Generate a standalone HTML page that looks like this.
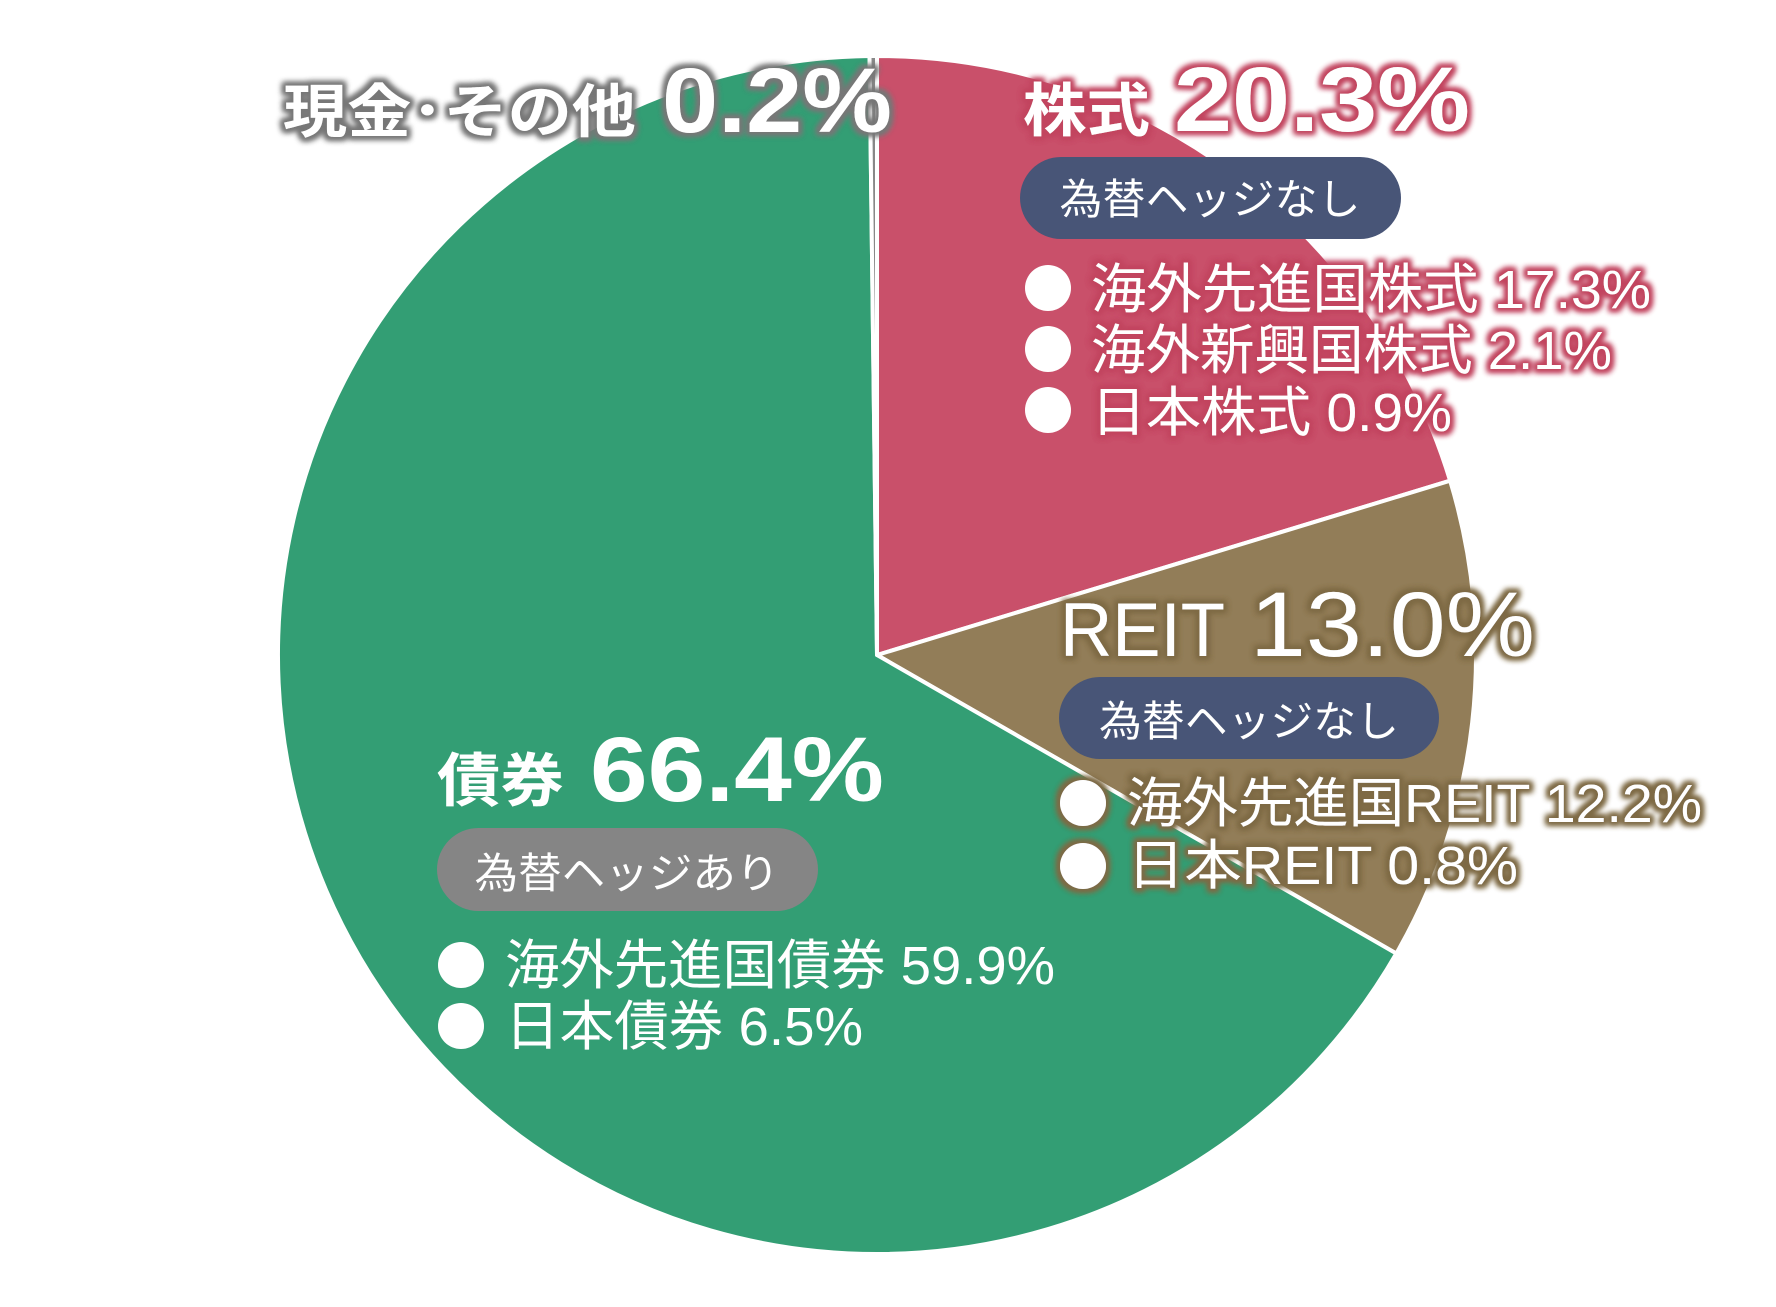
<!DOCTYPE html>
<html><head><meta charset="utf-8"><style>
html,body{margin:0;padding:0;background:#fff;}
svg{display:block;}
text{font-family:"Liberation Sans","Noto Sans CJK JP",sans-serif;fill:#fff;}
.b{font-weight:bold;}
</style></head><body>
<svg width="1776" height="1307" viewBox="0 0 1776 1307" xmlns="http://www.w3.org/2000/svg">
<defs>
<filter id="gp" x="-20%" y="-40%" width="140%" height="180%">
<feMorphology in="SourceAlpha" operator="dilate" radius="3" result="d"/>
<feGaussianBlur in="d" stdDeviation="3" result="b"/>
<feFlood flood-color="#c2455f"/><feComposite in2="b" operator="in" result="g"/>
<feMerge><feMergeNode in="g"/><feMergeNode in="g"/><feMergeNode in="SourceGraphic"/></feMerge>
</filter>
<filter id="gr" x="-20%" y="-40%" width="140%" height="180%">
<feMorphology in="SourceAlpha" operator="dilate" radius="3" result="d"/>
<feGaussianBlur in="d" stdDeviation="3" result="b"/>
<feFlood flood-color="#7e6a45"/><feComposite in2="b" operator="in" result="g"/>
<feMerge><feMergeNode in="g"/><feMergeNode in="g"/><feMergeNode in="SourceGraphic"/></feMerge>
</filter>
<filter id="gg" x="-20%" y="-40%" width="140%" height="180%">
<feMorphology in="SourceAlpha" operator="dilate" radius="3" result="d"/>
<feGaussianBlur in="d" stdDeviation="3" result="b"/>
<feFlood flood-color="#777777"/><feComposite in2="b" operator="in" result="g"/>
<feMerge><feMergeNode in="g"/><feMergeNode in="g"/><feMergeNode in="SourceGraphic"/></feMerge>
</filter>
</defs>
<g transform="translate(-2,-2)">
<g stroke="#fff" stroke-width="4" stroke-linejoin="round">
<path d="M879,657 L879,58 A599,599 0 0 1 1452.1,482.7 Z" fill="#c9506a"/>
<path d="M879,657 L1452.1,482.7 A599,599 0 0 1 1398.3,955.5 Z" fill="#927d58"/>
<path d="M879,657 L1398.3,955.5 A599,599 0 1 1 871.5,58.05 Z" fill="#339e74"/>
<path d="M879,657 L871.5,58.05 A599,599 0 0 1 879,58 Z" fill="#888"/>
</g>

<g filter="url(#gg)">
<text class="b" x="285" y="134" font-size="58" textLength="353" lengthAdjust="spacingAndGlyphs">現金･その他</text>
<text class="b" x="664" y="134" font-size="92" textLength="230" lengthAdjust="spacingAndGlyphs">0.2%</text>
</g>

<g filter="url(#gp)">
<text class="b" x="1025" y="133" font-size="58" textLength="127" lengthAdjust="spacingAndGlyphs">株式</text>
<text class="b" x="1176" y="133" font-size="92" textLength="296" lengthAdjust="spacingAndGlyphs">20.3%</text>
</g>
<rect x="1022" y="159" width="381" height="82" rx="41" fill="#485577"/>
<text x="1212" y="216" font-size="42" text-anchor="middle" textLength="301" lengthAdjust="spacingAndGlyphs">為替ヘッジなし</text>
<g fill="#fff"><circle cx="1050" cy="290" r="23"/><circle cx="1050" cy="351" r="23"/><circle cx="1050" cy="412" r="23"/></g>
<g filter="url(#gp)">
<text x="1093" y="310" font-size="54" textLength="560" lengthAdjust="spacingAndGlyphs">海外先進国株式  17.3%</text>
<text x="1093" y="371" font-size="54" textLength="521" lengthAdjust="spacingAndGlyphs">海外新興国株式  2.1%</text>
<text x="1093" y="433" font-size="54" textLength="361" lengthAdjust="spacingAndGlyphs">日本株式 0.9%</text>
</g>

<g filter="url(#gr)">
<text x="1062" y="658" font-size="76" textLength="165" lengthAdjust="spacingAndGlyphs">REIT</text>
<text x="1252" y="658" font-size="92" textLength="285" lengthAdjust="spacingAndGlyphs">13.0%</text>
</g>
<rect x="1061" y="679" width="380" height="82" rx="41" fill="#485577"/>
<text x="1251" y="738" font-size="42" text-anchor="middle" textLength="300" lengthAdjust="spacingAndGlyphs">為替ヘッジなし</text>
<g filter="url(#gr)">
<circle cx="1085" cy="805" r="23" fill="#fff"/><circle cx="1085" cy="868" r="23" fill="#fff"/>
<text x="1129" y="824" font-size="54" textLength="575" lengthAdjust="spacingAndGlyphs">海外先進国REIT 12.2%</text>
<text x="1129" y="886" font-size="54" textLength="391" lengthAdjust="spacingAndGlyphs">日本REIT 0.8%</text>
</g>

<text class="b" x="439" y="803" font-size="58" textLength="127" lengthAdjust="spacingAndGlyphs">債券</text>
<text class="b" x="592" y="803" font-size="92" textLength="294" lengthAdjust="spacingAndGlyphs">66.4%</text>
<rect x="439" y="830" width="381" height="83" rx="41.5" fill="#858585"/>
<text x="629" y="890" font-size="42" text-anchor="middle" textLength="305" lengthAdjust="spacingAndGlyphs">為替ヘッジあり</text>
<g fill="#fff"><circle cx="463" cy="967" r="23"/><circle cx="463" cy="1028" r="23"/></g>
<text x="507" y="986" font-size="54" textLength="550" lengthAdjust="spacingAndGlyphs">海外先進国債券 59.9%</text>
<text x="507" y="1047" font-size="54" textLength="358" lengthAdjust="spacingAndGlyphs">日本債券 6.5%</text>
</g>
</svg>
</body></html>
